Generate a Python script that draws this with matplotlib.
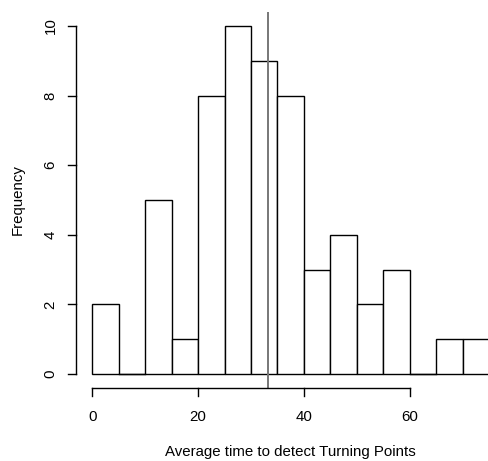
import matplotlib
matplotlib.use("Agg")
from matplotlib import pyplot as plt
import numpy as np

plt.rcParams['font.family'] = ['Liberation Sans', 'DejaVu Sans']

# histogram data, bins of width 5
breaks = [0, 5, 10, 15, 20, 25, 30, 35, 40, 45, 50, 55, 60, 65, 70, 75]
counts = [2, 0, 5, 1, 8, 10, 9, 8, 3, 4, 2, 3, 0, 1, 1]
mean_line = 33.2
xticks = [0, 20, 40, 60]
yticks = [0, 2, 4, 6, 8, 10]

W, H = 489, 461
fig = plt.figure(figsize=(W / 100, H / 100), dpi=100)
# plot region in pixels: x 76..489, y 12..388
ax = fig.add_axes([76 / W, 1 - 388 / H, (489 - 76) / W, (388 - 12) / H])
ax.set_xlim(-3.08, 75.0)
ax.set_ylim(-0.4, 10.4)

lefts = np.array(breaks[:-1])
widths = np.diff(breaks)
ax.bar(lefts, counts, width=widths, align='edge', facecolor='white',
       edgecolor='black', linewidth=1.0)
# empty bins still show their bottom edge
for l, w, c in zip(lefts, widths, counts):
    if c == 0:
        ax.plot([l, l + w], [0, 0], color='black', lw=1.0)
ax.axvline(mean_line, color='#777777', linewidth=1.4)

for s in ax.spines.values():
    s.set_visible(False)
ax.set_xticks([])
ax.set_yticks([])

# R-style detached axes
fs = 10.8
ax.plot([xticks[0], xticks[-1]], [-0.4, -0.4], color='black', lw=1, clip_on=False)
for t in xticks:
    ax.plot([t, t], [-0.4, -0.63], color='black', lw=1, clip_on=False)
    ax.text(t, -1.22, str(t), ha='center', va='center', fontsize=fs)
ax.plot([-3.08, -3.08], [yticks[0], yticks[-1]], color='black', lw=1, clip_on=False)
for t in yticks:
    ax.plot([-3.08, -4.6], [t, t], color='black', lw=1, clip_on=False)
    ax.text(-7.9, t, str(t), ha='center', va='center', fontsize=fs, rotation=90)

fig.text(290 / W, 1 - 452 / H, 'Average time to detect Turning Points',
         ha='center', va='center', fontsize=fs)
fig.text(18 / W, 1 - 200 / H, 'Frequency', ha='center', va='center',
         fontsize=fs, rotation=90)

fig.savefig('out.png', dpi=100)
